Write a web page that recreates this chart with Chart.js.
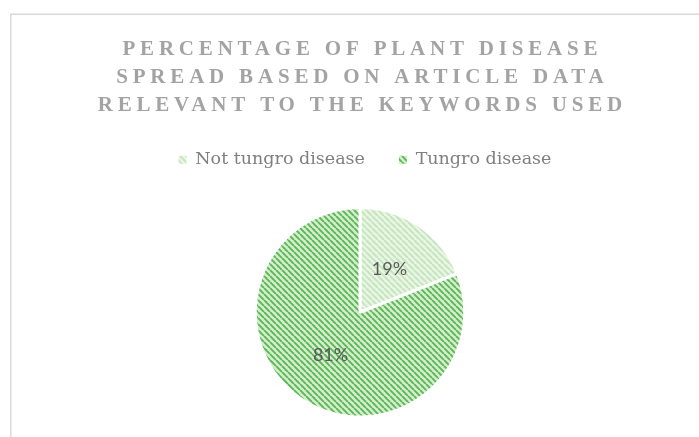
<!DOCTYPE html>
<html>
<head>
<meta charset="utf-8">
<script src="https://cdn.jsdelivr.net/npm/chart.js@4/dist/chart.umd.min.js"></script>
<style>
  html, body { margin: 0; padding: 0; background: #ffffff; }
  #wrap { position: relative; width: 699px; height: 437px; }
</style>
</head>
<body>
<div id="wrap"><canvas id="c" width="699" height="437"></canvas></div>
<script>
const titleLines = ['PERCENTAGE OF PLANT DISEASE', 'SPREAD BASED ON ARTICLE DATA', 'RELEVANT TO THE KEYWORDS USED'];
const categories = ['Not tungro disease', 'Tungro disease'];
const values = [19, 81];

function makePattern(bg, fg, s, lw) {
  const c = document.createElement('canvas');
  c.width = s; c.height = s;
  const x = c.getContext('2d');
  x.fillStyle = bg;
  x.fillRect(0, 0, s, s);
  x.strokeStyle = fg;
  x.lineWidth = lw;
  x.beginPath();
  for (let k = -1; k <= 1; k++) {
    x.moveTo(k * s, 0);
    x.lineTo(k * s + s, s);
  }
  x.stroke();
  return x.createPattern(c, 'repeat');
}

const patterns = [
  makePattern('#eaf6e6', '#c6e5be', 6, 2),
  makePattern('#d4eecc', '#5ab657', 6, 1.9)
];

const framePlugin = {
  id: 'frame',
  beforeDraw(chart) {
    const ctx = chart.ctx;
    ctx.save();
    ctx.strokeStyle = '#d9d9d9';
    ctx.lineWidth = 1.5;
    ctx.strokeRect(10.75, 14.25, 1000, 1000);
    ctx.restore();
  }
};

const legendSpacer = {
  id: 'legendSpacer',
  beforeLayout(chart) {
    const lg = chart.legend;
    if (lg && !lg._spacerPatched) {
      const orig = lg.fit;
      lg.fit = function () {
        orig.call(this);
        this.height += 27.5;
      };
      lg._spacerPatched = true;
    }
  },
  afterLayout(chart) {
    const lg = chart.legend;
    if (lg) {
      lg.left += 5;
      lg.right += 5;
    }
  }
};

const titlePlugin = {
  id: 'spacedTitle',
  afterDraw(chart) {
    const ctx = chart.ctx;
    ctx.save();
    ctx.font = 'bold 21px "Liberation Serif"';
    ctx.fillStyle = '#a3a3a3';
    ctx.textBaseline = 'alphabetic';
    ctx.textAlign = 'left';
    const baselines = [55, 83, 111];
    const centerX = 360;
    const sp = 4.8;
    titleLines.forEach((line, i) => {
      ctx.letterSpacing = '0px';
      const w = ctx.measureText(line).width;
      ctx.letterSpacing = sp + 'px';
      const total = w + sp * (line.length - 1);
      ctx.fillText(line, centerX - total / 2, baselines[i]);
    });
    ctx.restore();
  }
};

const labelPlugin = {
  id: 'pctLabels',
  afterDatasetsDraw(chart) {
    const ctx = chart.ctx;
    const meta = chart.getDatasetMeta(0);
    const total = values.reduce((a, b) => a + b, 0);
    ctx.save();
    ctx.font = '18px Lato';
    ctx.fillStyle = '#595959';
    ctx.textAlign = 'center';
    ctx.textBaseline = 'middle';
    meta.data.forEach((arc, i) => {
      const p = arc.tooltipPosition();
      ctx.fillText(Math.round(values[i] / total * 100) + '%', p.x, p.y);
    });
    ctx.restore();
  }
};

const baseGen = (Chart.DoughnutController && Chart.DoughnutController.overrides.plugins.legend.labels.generateLabels);

new Chart(document.getElementById('c'), {
  type: 'pie',
  data: {
    labels: categories,
    datasets: [{
      data: values,
      backgroundColor: patterns,
      borderColor: '#ffffff',
      borderWidth: 3
    }]
  },
  options: {
    responsive: false,
    animation: false,
    layout: { padding: { top: 117, bottom: 18.5, left: 21, right: 0 } },
    plugins: {
      legend: {
        position: 'top',
        labels: {
          boxWidth: 8,
          boxHeight: 8,
          color: '#7f7f7f',
          font: { family: '"DejaVu Serif"', size: 17.5 },
          padding: 34,
          generateLabels(chart) {
            const items = baseGen(chart);
            items.forEach(it => { it.lineWidth = 0; });
            return items;
          }
        }
      },
      title: { display: false },
      tooltip: { enabled: false }
    }
  },
  plugins: [framePlugin, legendSpacer, titlePlugin, labelPlugin]
});
</script>
</body>
</html>
